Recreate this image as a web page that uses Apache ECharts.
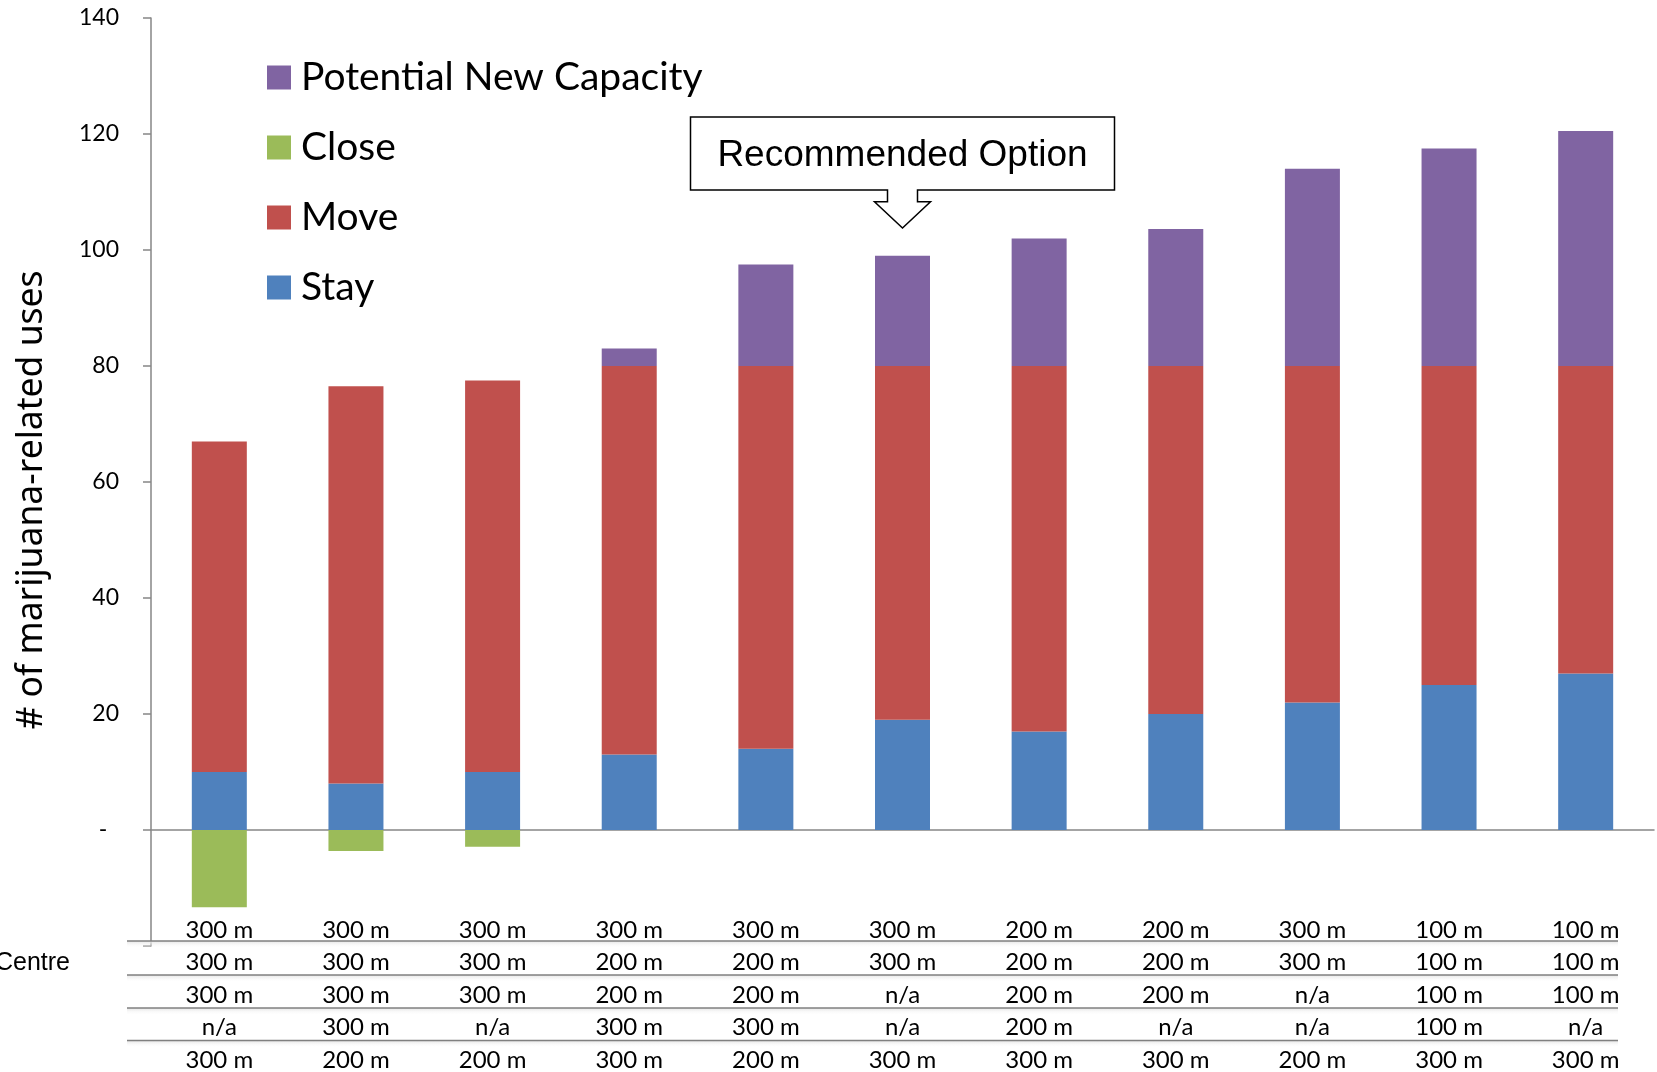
<!DOCTYPE html>
<html>
<head>
<meta charset="utf-8">
<script src="https://cdn.jsdelivr.net/npm/echarts@6/dist/echarts.min.js"></script>
<style>
  html, body { margin: 0; padding: 0; background: #fff; }
  #chart { width: 1657px; height: 1072px; }
</style>
</head>
<body>
<div id="chart"></div>
<script>
// options along the x axis (labels hidden, the table below describes them)
var categories = ['1', '2', '3', '4', '5', '6', '7', '8', '9', '10', '11']

var stay = [10, 8, 10, 13, 14, 19, 17, 20, 22, 25, 27]
var move = [57, 68.5, 67.5, 67, 66, 61, 63, 60, 58, 55, 53]
var closeUses = [-13.3, -3.6, -2.9, 0, 0, 0, 0, 0, 0, 0, 0]
var newCapacity = [0, 0, 0, 3, 17.5, 19, 22, 23.6, 34, 37.5, 40.5]

// data table under the chart, one array per row
var row1 = ['300 m', '300 m', '300 m', '300 m', '300 m', '300 m', '200 m', '200 m', '300 m', '100 m', '100 m']
var row2 = ['300 m', '300 m', '300 m', '200 m', '200 m', '300 m', '200 m', '200 m', '300 m', '100 m', '100 m']
var row3 = ['300 m', '300 m', '300 m', '200 m', '200 m', 'n/a', '200 m', '200 m', 'n/a', '100 m', '100 m']
var row4 = ['n/a', '300 m', 'n/a', '300 m', '300 m', 'n/a', '200 m', 'n/a', 'n/a', '100 m', 'n/a']
var row5 = ['300 m', '200 m', '200 m', '300 m', '200 m', '300 m', '300 m', '300 m', '200 m', '300 m', '300 m']
var tableRows = [row1, row2, row3, row4, row5]

var recommendedIndex = 5

var axisGray = '#868686'
var tableFont = 'Lato'

var chart = echarts.init(document.getElementById('chart'))

// one hidden category axis per table row, stacked with offsets
var rowOffsets = [0, 32, 64.5, 96.5, 129.5]
var tableAxes = tableRows.map(function(row, i) {
  return {
    type: 'category',
    gridIndex: 1,
    position: 'bottom',
    offset: rowOffsets[i],
    data: row,
    axisLine: { show: false },
    axisTick: { show: false },
    axisLabel: {
      margin: 13,
      interval: 0,
      color: '#000',
      fontFamily: tableFont,
      fontSize: 24,
      lineHeight: 24
    }
  }
})

function barSeries(name, data, color) {
  return {
    name: name,
    type: 'bar',
    stack: 'total',
    barWidth: 55,
    xAxisIndex: 0,
    yAxisIndex: 0,
    itemStyle: { color: color },
    data: data
  }
}

chart.setOption({
  animation: false,
  grid: [
    { left: 151, right: 3, top: 18, height: 928 },
    { left: 151, right: 3, top: 905, height: 1 }
  ],
  legend: {
    orient: 'vertical',
    left: 262,
    top: 53,
    icon: 'rect',
    itemWidth: 24,
    itemHeight: 24,
    itemGap: 31,
    data: ['Potential New Capacity', 'Close', 'Move', 'Stay'],
    textStyle: {
      fontFamily: tableFont,
      fontSize: 39,
      lineHeight: 39,
      color: '#000',
      padding: [0, 0, 0, 5]
    }
  },
  xAxis: [
    {
      type: 'category',
      gridIndex: 0,
      data: categories,
      axisLine: { onZero: true, lineStyle: { color: axisGray, width: 1.5 } },
      axisTick: { length: 8, lineStyle: { color: axisGray, width: 1.5 } },
      axisLabel: { show: false }
    }
  ].concat(tableAxes),
  yAxis: [
    {
      type: 'value',
      gridIndex: 0,
      min: -20,
      max: 140,
      interval: 20,
      splitLine: { show: false },
      axisLine: { show: true, lineStyle: { color: axisGray, width: 1.5 } },
      axisTick: { show: true, length: 8, lineStyle: { color: axisGray, width: 1.5 } },
      axisLabel: {
        margin: 32,
        color: '#000',
        fontFamily: tableFont,
        fontSize: 23,
        formatter: function(v) {
          if (v === 0) return '-  '
          if (v < 0) return ''
          return v
        }
      }
    },
    { type: 'value', gridIndex: 1, show: false }
  ],
  series: [
    barSeries('Stay', stay, '#4F81BD'),
    barSeries('Move', move, '#C0504D'),
    barSeries('Potential New Capacity', newCapacity, '#8064A2'),
    barSeries('Close', closeUses, '#9BBB59')
  ]
})

// callout over the recommended option, table rules and titles
var cx = chart.convertToPixel({ xAxisIndex: 0 }, categories[recommendedIndex])
var boxL = cx - 212, boxR = cx + 212, boxT = 117, boxB = 190
var stemW = 15, headW = 28, headY = 201.7, tipY = 228

var graphics = [
  {
    type: 'polygon',
    shape: {
      points: [
        [boxL, boxT], [boxR, boxT], [boxR, boxB],
        [cx + stemW, boxB], [cx + stemW, headY], [cx + headW, headY],
        [cx, tipY],
        [cx - headW, headY], [cx - stemW, headY], [cx - stemW, boxB],
        [boxL, boxB]
      ]
    },
    style: { fill: '#fff', stroke: '#000', lineWidth: 1.5 },
    z: 100
  },
  {
    type: 'text',
    x: cx,
    y: 156,
    style: {
      text: 'Recommended Option',
      fontFamily: 'Liberation Sans',
      fontSize: 37,
      fill: '#000',
      textAlign: 'center',
      textVerticalAlign: 'middle'
    },
    z: 101
  },
  {
    type: 'text',
    x: 32,
    y: 500,
    rotation: Math.PI / 2,
    style: {
      text: '# of marijuana-related uses',
      fontFamily: 'Noto Sans',
      fontSize: 35.5,
      fill: '#000',
      textAlign: 'center',
      textVerticalAlign: 'middle'
    }
  },
  {
    type: 'text',
    x: 70,
    y: 963,
    style: {
      text: 'Centre',
      fontFamily: 'Liberation Sans',
      fontSize: 25,
      fill: '#000',
      textAlign: 'right',
      textVerticalAlign: 'middle'
    }
  }
]

var ruleYs = [941, 975, 1008, 1040.5]
ruleYs.forEach(function(y) {
  graphics.push({
    type: 'rect',
    shape: { x: 127, y: y, width: 1491, height: 7 },
    style: {
      fill: new echarts.graphic.LinearGradient(0, 0, 0, 1, [
        { offset: 0, color: '#e4e4e4' },
        { offset: 1, color: 'rgba(255,255,255,0)' }
      ])
    },
    z: 1
  })
  graphics.push({
    type: 'line',
    shape: { x1: 127, y1: y, x2: 1618, y2: y },
    style: { stroke: '#808080', lineWidth: 1.5 },
    z: 2
  })
})

chart.setOption({ graphic: graphics })
</script>
</body>
</html>
